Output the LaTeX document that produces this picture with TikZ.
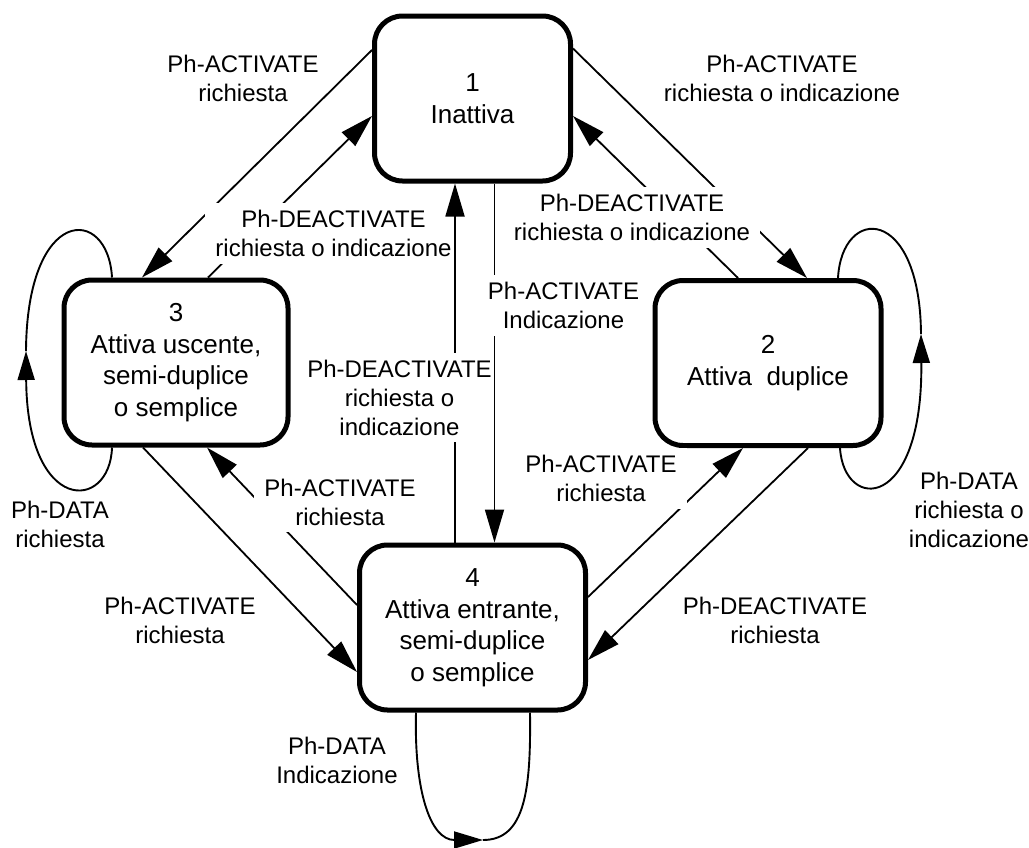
\documentclass[tikz,border=0pt]{standalone}
\usepackage{fontspec}
\setmainfont{Liberation Sans}
\usetikzlibrary{arrows.meta}
\begin{document}
\begin{tikzpicture}[x=1pt,y=-1pt,
  state/.style={draw, line width=5pt, rounded corners=28pt, fill=white,
    align=center, font=\fontsize{26}{31.5}\selectfont, inner sep=0pt,
    minimum height=165pt},
  trans/.style={line width=1.8pt, -{Triangle[length=33pt,width=19pt]}},
  looptrans/.style={line width=1.9pt, -{Triangle[length=29pt,width=17pt]}},
  loopline/.style={line width=1.9pt},
  lab/.style={align=center, font=\fontsize{24}{29}\selectfont, inner sep=0pt},
  cutlab/.style={lab, fill=white, inner xsep=10pt, inner ysep=7pt}
]
\useasboundingbox (0,0) rectangle (1029,847);

% states
\node[state, minimum width=196pt] (n1) at (472.5,98.5) {1\\Inattiva};
\node[state, minimum width=224pt] (n3) at (176,362.5) {3\\Attiva uscente,\\semi-duplice\\o semplice};
\node[state, minimum width=226pt] (n2) at (768,363) {2\\Attiva~~duplice};
\node[state, minimum width=226pt] (n4) at (472.5,627.5) {4\\Attiva entrante,\\semi-duplice\\o semplice};

% transitions between states
\draw[trans] ([yshift=48.5pt]n1.west) -- ([xshift=-34pt]n3.north);
\draw[trans] ([xshift=32pt]n3.north) -- ([yshift=-17.5pt]n1.west);
\draw[trans] ([yshift=50pt]n1.east) -- ([xshift=39pt]n2.north);
\draw[trans] ([xshift=-30pt]n2.north) -- ([yshift=-17.5pt]n1.east);
\draw[trans] ([xshift=-33pt]n3.south) -- ([yshift=-44.5pt]n4.west);
\draw[trans] ([yshift=22.5pt]n4.west) -- ([xshift=31pt]n3.south);
\draw[trans] ([yshift=30.5pt]n4.east) -- ([xshift=-25pt]n2.south);
\draw[trans] ([xshift=40pt]n2.south) -- ([yshift=-32.5pt]n4.east);

% self loops
\coordinate (t3) at (26,351);
\coordinate (t2) at (921,334);
\coordinate (t4) at (483,840);
\draw[looptrans] ([xshift=-64pt]n3.south) .. controls (110,512) and (27,515) .. (t3);
\draw[loopline] (t3) .. controls (27,205) and (108,205) .. ([xshift=-64pt]n3.north);
\draw[looptrans] ([xshift=72pt]n2.south) .. controls (844,512) and (923,512) .. (t2);
\draw[loopline] (t2) .. controls (920,205) and (842,205) .. ([xshift=70pt]n2.north);
\draw[looptrans] ([xshift=-56.5pt]n4.south) .. controls (414,790) and (430,840) .. (t4);
\draw[loopline] (t4) .. controls (525,840) and (531,790) .. ([xshift=57.5pt]n4.south);

% labels that interrupt the lines they sit on
\node[cutlab] (lc) at (333.5,233.5) {Ph-DEACTIVATE\\richiesta o indicazione};
\node[cutlab] (ld) at (632,217.5) {Ph-DEACTIVATE\\richiesta o indicazione};
\node[cutlab] (lg) at (340,502) {Ph-ACTIVATE\\richiesta};
\node[cutlab] (lh) at (601,478.5) {Ph-ACTIVATE\\richiesta};

% vertical transitions between 1 and 4
\draw[trans] ([xshift=-17.5pt]n4.north) -- ([xshift=-17.5pt]n1.south);
\node[cutlab] (lf) at (399.5,397.5) {Ph-DEACTIVATE\\richiesta o\\indicazione};
\draw[trans] ([xshift=22pt]n1.south) -- ([xshift=22pt]n4.north);
\node[cutlab] (le) at (563.5,305.5) {Ph-ACTIVATE\\Indicazione};

% free-standing labels
\node[lab] (la) at (243,78) {Ph-ACTIVATE\\richiesta};
\node[lab] (lb) at (782,78) {Ph-ACTIVATE\\richiesta o indicazione};
\node[lab] (li) at (180,620) {Ph-ACTIVATE\\richiesta};
\node[lab] (lj) at (775,620) {Ph-DEACTIVATE\\richiesta};
\node[lab] (lk) at (60,524) {Ph-DATA\\richiesta};
\node[lab] (ll) at (969,509.5) {Ph-DATA\\richiesta o\\indicazione};
\node[lab] (lm) at (337,760.5) {Ph-DATA\\Indicazione};
\end{tikzpicture}
\end{document}
